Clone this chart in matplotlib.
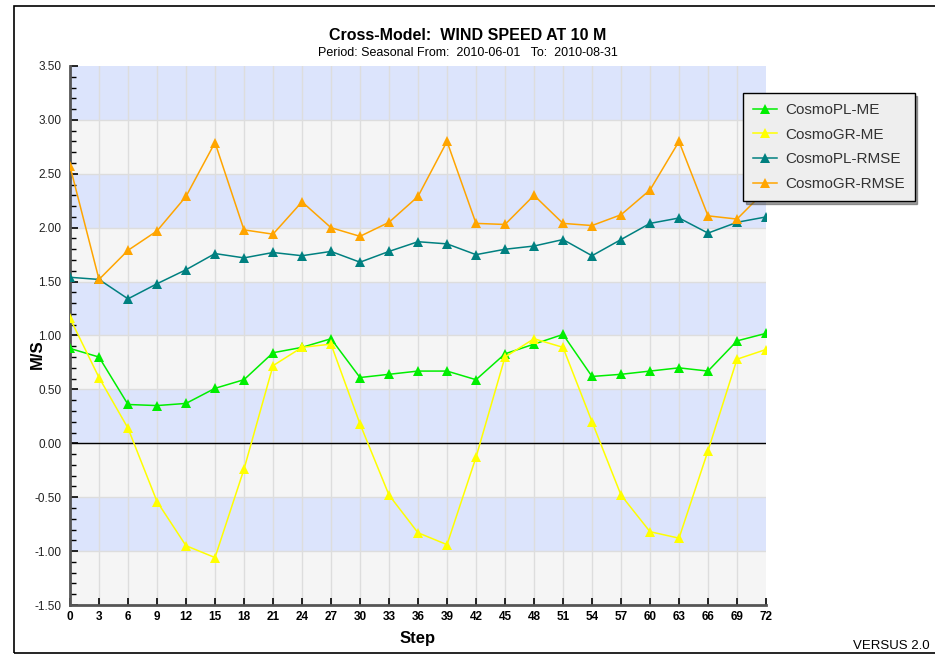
import numpy as np
import matplotlib
matplotlib.use("Agg")
import matplotlib.pyplot as plt
from matplotlib.patches import Rectangle
from matplotlib.ticker import MultipleLocator

plt.rcParams['font.family'] = ['Liberation Sans', 'DejaVu Sans']

# forecast steps (hours)
steps = list(range(0, 73, 3))

# mean error / rmse per model
pl_me = [0.88, 0.80, 0.36, 0.35, 0.37, 0.51, 0.59, 0.84, 0.89, 0.97, 0.61, 0.64, 0.67,
         0.67, 0.59, 0.83, 0.92, 1.01, 0.62, 0.64, 0.67, 0.70, 0.67, 0.95, 1.02]
gr_me = [1.16, 0.61, 0.14, -0.54, -0.95, -1.06, -0.24, 0.72, 0.89, 0.92, 0.18, -0.48, -0.83,
         -0.94, -0.13, 0.80, 0.97, 0.89, 0.20, -0.48, -0.82, -0.88, -0.07, 0.78, 0.87]
pl_rmse = [1.54, 1.52, 1.34, 1.48, 1.61, 1.76, 1.72, 1.77, 1.74, 1.78, 1.68, 1.78, 1.87,
           1.85, 1.75, 1.80, 1.83, 1.89, 1.74, 1.89, 2.04, 2.09, 1.95, 2.05, 2.10]
gr_rmse = [2.57, 1.52, 1.79, 1.97, 2.29, 2.79, 1.98, 1.94, 2.24, 2.00, 1.92, 2.05, 2.29,
           2.80, 2.04, 2.03, 2.30, 2.04, 2.02, 2.12, 2.35, 2.80, 2.11, 2.08, 2.35]

series = [
    ("CosmoPL-ME", pl_me, "#00ee00"),
    ("CosmoGR-ME", gr_me, "#ffff00"),
    ("CosmoPL-RMSE", pl_rmse, "#008080"),
    ("CosmoGR-RMSE", gr_rmse, "#ffa500"),
]

fig = plt.figure(figsize=(9.35, 6.55), dpi=100)
ax = fig.add_axes([70 / 935, 1 - 605 / 655, 696 / 935, 539 / 655])

# outer frame
fig.patches.append(Rectangle((14 / 935, 2 / 655), 0.99, 647 / 655, transform=fig.transFigure,
                             fill=False, edgecolor="black", linewidth=1.2))

ymin, ymax = -1.5, 3.5
ax.set_xlim(0, 72)
ax.set_ylim(ymin, ymax)

# alternating bands
for i, y0 in enumerate(np.arange(ymin, ymax, 0.5)):
    col = "#dce4fc" if i % 2 == 1 else "#f5f5f5"
    ax.axhspan(y0, y0 + 0.5, color=col, zorder=0, linewidth=0)
for y0 in np.arange(ymin + 0.5, ymax, 0.5):
    ax.axhline(y0, color="#dddddd", linewidth=1, zorder=1)
for x0 in steps[1:-1]:
    ax.axvline(x0, color="#dddddd", linewidth=1, zorder=1)
ax.axhline(0, color="black", linewidth=1, zorder=2)

for name, vals, col in series:
    ax.plot(steps, vals, color=col, linewidth=1.1, marker="^", markersize=6.5,
            markeredgewidth=0, label=name, zorder=3)

ax.set_xticks(steps)
ax.set_xticklabels([str(s) for s in steps], fontweight="bold", fontsize=8.5)
ax.yaxis.set_minor_locator(MultipleLocator(0.1))
ax.set_yticks(np.arange(ymin, ymax + 0.01, 0.5))
ax.set_yticklabels([f"{v:.2f}" for v in np.arange(ymin, ymax + 0.01, 0.5)], fontsize=8.5,
                   color="#222222")
ax.tick_params(axis="y", which="major", direction="in", length=6, width=1.2, pad=6)
ax.tick_params(axis="y", which="minor", direction="in", length=4, width=1)
ax.tick_params(axis="x", direction="in", length=5, width=1.2, pad=4)

for s in ["top", "right"]:
    ax.spines[s].set_visible(False)
for s in ["left", "bottom"]:
    ax.spines[s].set_color("#555555")
    ax.spines[s].set_linewidth(2)

ax.set_xlabel("Step", fontsize=12, fontweight="bold", labelpad=6)
ax.set_ylabel("M/S", fontsize=12, fontweight="bold")
ax.yaxis.set_label_coords(-0.036, 0.465)

fig.text(0.5, 1 - 36 / 655, "Cross-Model:  WIND SPEED AT 10 M", ha="center", va="center",
         fontsize=11.5, fontweight="bold")
fig.text(0.5, 1 - 53 / 655, "Period: Seasonal From:  2010-06-01   To:  2010-08-31", ha="center",
         va="center", fontsize=9)
fig.text(930 / 935, 1 - 646 / 655, "VERSUS 2.0", ha="right", va="center", fontsize=9.5)

leg = ax.legend(loc="upper left", bbox_to_anchor=(743 / 935, 1 - 93 / 655),
                bbox_transform=fig.transFigure, fontsize=11, frameon=True, fancybox=False,
                shadow=True, borderaxespad=0, handlelength=1.6, labelspacing=0.7,
                borderpad=0.65, handletextpad=0.5)
leg.get_frame().set_facecolor("#eeeeee")
leg.get_frame().set_edgecolor("black")
leg.get_frame().set_alpha(1)
for t in leg.get_texts():
    t.set_color("#333333")

fig.savefig("out.png", dpi=100)
